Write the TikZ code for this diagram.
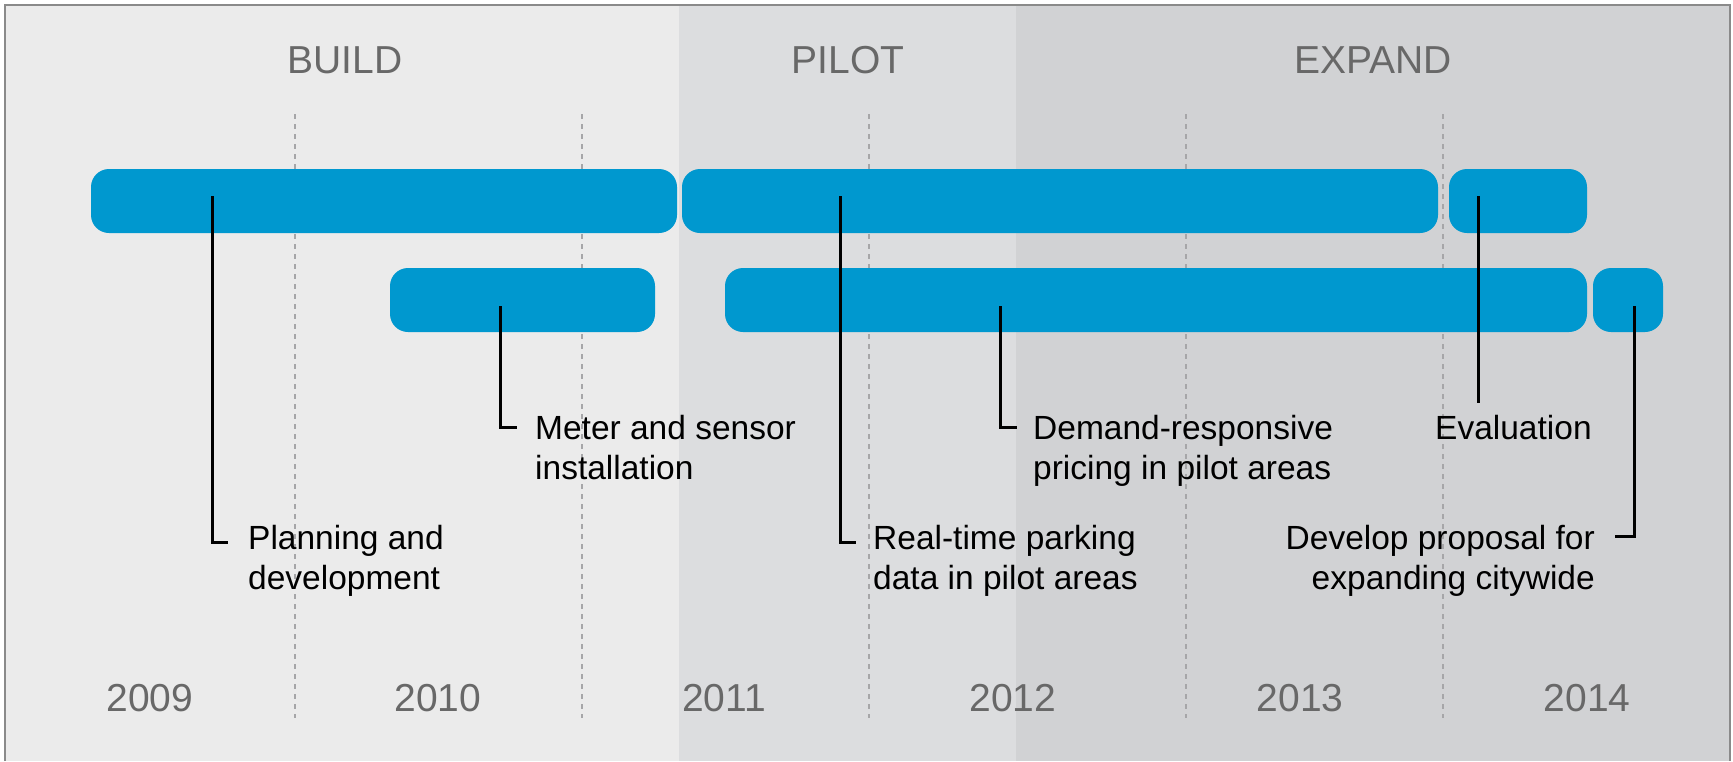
\documentclass[tikz,border=0pt]{standalone}
\usepackage{fontspec}
\setmainfont{Liberation Sans}
\usepackage{tikz}

\definecolor{barblue}{RGB}{0,152,207}
\definecolor{bgbuild}{RGB}{235,235,235}
\definecolor{bgpilot}{RGB}{220,221,223}
\definecolor{bgexpand}{RGB}{209,210,212}
\definecolor{framegray}{RGB}{138,138,138}
\definecolor{dashgray}{RGB}{166,166,168}
\definecolor{headgray}{RGB}{104,104,104}

\begin{document}
\begin{tikzpicture}[x=1pt,y=-1pt,
    bar/.style={fill=barblue,rounded corners=18pt,inner sep=0pt,minimum height=64pt},
    leader/.style={line width=3pt},
    phase/.style={text=headgray,font=\fontsize{39}{44}\selectfont,anchor=base},
    year/.style={text=headgray,font=\fontsize{39}{44}\selectfont,anchor=base},
    label/.style={align=left,inner sep=0pt,font=\fontsize{33.5}{40}\selectfont}]
            \useasboundingbox (0,0) rectangle (1733,761);

            % backgrounds
            \fill [bgbuild] (5,5) rectangle (679,761);
            \fill [bgpilot] (679,5) rectangle (1016,761);
            \fill [bgexpand] (1016,5) rectangle (1730,761);
            \draw [framegray,line width=2pt] (5,761) -- (5,5) -- (1730,5) -- (1730,761);

            % year dividers
            \foreach \x in {295,582,869,1186,1443}
                \draw [dashgray,line width=2.6pt,dash pattern=on 5pt off 5pt] (\x,114) -- (\x,718);

            \node [phase] (build) at (345,73) {BUILD};
            \node [phase] (pilot) at (848,73) {PILOT};
            \node [phase] (expand) at (1373,73) {EXPAND};

            \node [year] (y2009) at (150,711) {2009};
            \node [year] (y2010) at (438,711) {2010};
            \node [year] (y2011) at (724,711) {2011};
            \node [year] (y2012) at (1013,711) {2012};
            \node [year] (y2013) at (1300,711) {2013};
            \node [year] (y2014) at (1587,711) {2014};

            % bars
            \node [bar,minimum width=586pt] (plan) at (384,201) {};
            \node [bar,minimum width=756pt] (realtime) at (1060,201) {};
            \node [bar,minimum width=138pt] (evalbar) at (1518,201) {};
            \node [bar,minimum width=265pt] (meter) at (522.5,300) {};
            \node [bar,minimum width=862pt] (demand) at (1156,300) {};
            \node [bar,minimum width=70pt] (develop) at (1628,300) {};

            % labels (base = last line)
            \node [label,anchor=base west] (plantxt) at (248,589) {Planning and\\development};
            \node [label,anchor=base west] (metertxt) at (535,479) {Meter and sensor\\installation};
            \node [label,anchor=base west] (realtxt) at (873,589) {Real-time parking\\data in pilot areas};
            \node [label,anchor=base west] (demandtxt) at (1033,479) {Demand-responsive\\pricing in pilot areas};
            \node [label,anchor=base west] (evaltxt) at (1435,439) {Evaluation};
            \node [label,anchor=base east,align=right] (devtxt) at (1595,589) {Develop proposal for\\expanding citywide};

            \coordinate (planpin) at (212,196);
            \coordinate (realpin) at (840,196);
            \coordinate (evalpin) at (1478,196);
            \coordinate (meterpin) at (500,306);
            \coordinate (demandpin) at (1000,306);
            \coordinate (devpin) at (1634,306);
            \coordinate (evalend) at (1478,403);

            \draw [leader] (planpin) |- ([shift={(-20,-47)}]plantxt.base west);
            \draw [leader] (meterpin) |- ([shift={(-18,-52)}]metertxt.base west);
            \draw [leader] (realpin) |- ([shift={(-17,-47)}]realtxt.base west);
            \draw [leader] (demandpin) |- ([shift={(-16,-52)}]demandtxt.base west);
            \draw [leader] (evalpin) -- (evalend);
            \draw [leader] (devpin) |- ([shift={(20,-53)}]devtxt.base east);
        \end{tikzpicture}
\end{document}
